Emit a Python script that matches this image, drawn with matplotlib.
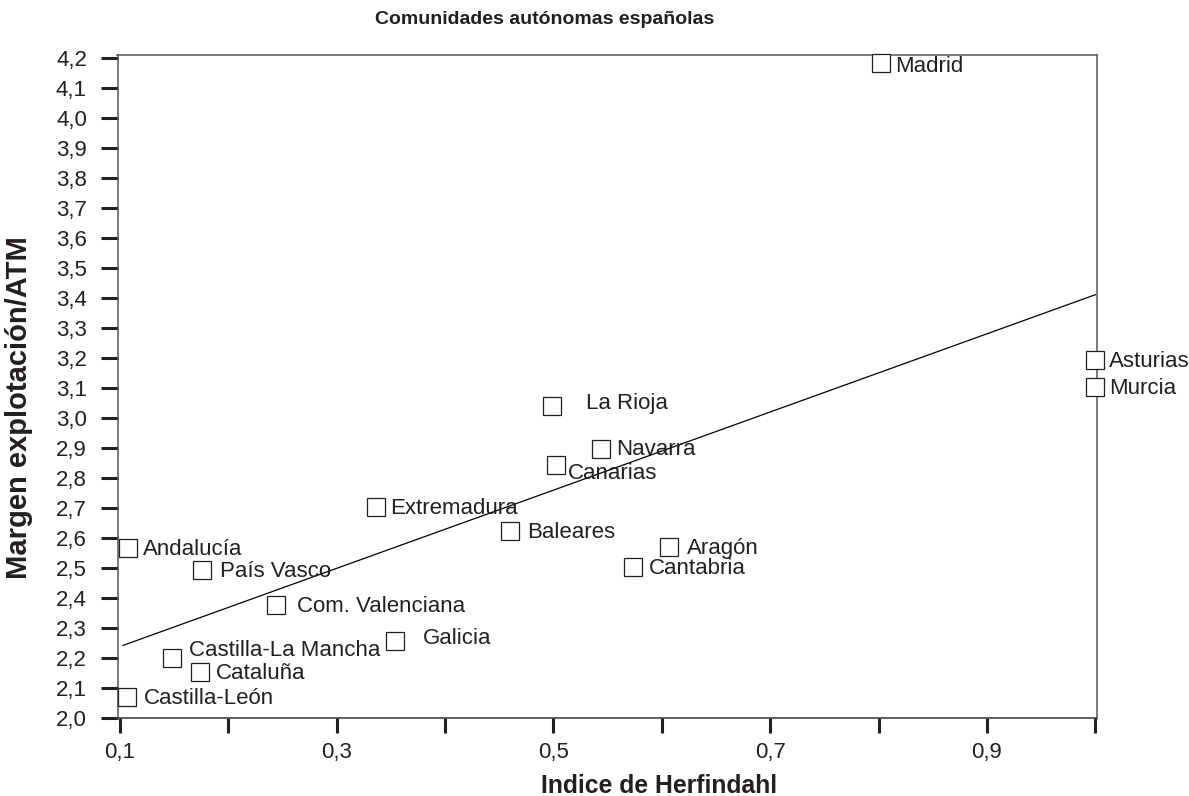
import matplotlib
matplotlib.use("Agg")
import matplotlib.pyplot as plt
from matplotlib.ticker import FixedLocator, FuncFormatter

plt.rcParams['font.family'] = ['Liberation Sans', 'DejaVu Sans']

# ---- data ----
regions = ["Madrid", "Asturias", "Murcia", "La Rioja", "Navarra", "Canarias",
           "Extremadura", "Baleares", "Aragón", "Cantabria", "Andalucía",
           "País Vasco", "Com. Valenciana", "Galicia", "Castilla-La Mancha",
           "Cataluña", "Castilla-León"]
herfindahl = [0.802, 1.000, 1.000, 0.499, 0.544, 0.502,
              0.336, 0.460, 0.607, 0.573, 0.108,
              0.176, 0.244, 0.354, 0.148,
              0.174, 0.107]
margen = [4.181, 3.193, 3.102, 3.040, 2.896, 2.841,
          2.703, 2.622, 2.569, 2.503, 2.567,
          2.492, 2.375, 2.255, 2.200,
          2.151, 2.069]
fit_x = [0.103, 1.0]
fit_y = [2.241, 3.410]
x_ticks = [0.1, 0.2, 0.3, 0.4, 0.5, 0.6, 0.7, 0.8, 0.9, 1.0]
x_labelled = [0.1, 0.3, 0.5, 0.7, 0.9]
y_ticks = [2.0, 2.1, 2.2, 2.3, 2.4, 2.5, 2.6, 2.7, 2.8, 2.9, 3.0,
           3.1, 3.2, 3.3, 3.4, 3.5, 3.6, 3.7, 3.8, 3.9, 4.0, 4.1, 4.2]

# label offsets in pixels relative to cap-centred text (layout only)
label_offsets = {
    "Madrid": (14, -1), "Asturias": (14, 1), "Murcia": (14, 1),
    "La Rioja": (34, 5), "Navarra": (15, 2), "Canarias": (12, -6),
    "Extremadura": (15, 1), "Baleares": (17, 1), "Aragón": (18, 1),
    "Cantabria": (16, 1), "Andalucía": (14.5, 1), "País Vasco": (18, 1),
    "Com. Valenciana": (21.5, 1), "Galicia": (28, 5),
    "Castilla-La Mancha": (17, 10), "Cataluña": (16, 1), "Castilla-León": (16.5, 1),
}

INK = "#231f20"
LABEL_SIZE = 16
CAP_HALF_PX = 0.716 * LABEL_SIZE * 100 / 72 / 2

fig = plt.figure(figsize=(11.89, 7.96), dpi=100)
ax = fig.add_axes([117.5 / 1189, 1 - 718 / 796, (1097 - 117.5) / 1189, (718 - 55) / 796])

ax.plot(fit_x, fit_y, color="black", lw=0.9, zorder=2)
ax.plot(herfindahl, margen, linestyle="none", marker="s", markersize=13.5,
        markerfacecolor="white", markeredgecolor=INK, markeredgewidth=0.9,
        zorder=5, clip_on=False)

for name, xv, yv in zip(regions, herfindahl, margen):
    dx, dy = label_offsets[name]
    ax.annotate(name, (xv, yv), xytext=(dx, dy - CAP_HALF_PX), textcoords="offset pixels",
                ha="left", va="baseline", fontsize=LABEL_SIZE, color=INK,
                zorder=6, annotation_clip=False)

ax.set_xlim(0.0979, 1.0015)
ax.set_ylim(1.999, 4.209)

ax.xaxis.set_major_locator(FixedLocator(x_ticks))
ax.yaxis.set_major_locator(FixedLocator(y_ticks))

def xfmt(v, pos):
    for t in x_labelled:
        if abs(v - t) < 1e-6:
            return f"{v:.1f}".replace(".", ",")
    return ""

ax.xaxis.set_major_formatter(FuncFormatter(xfmt))
ax.yaxis.set_major_formatter(FuncFormatter(lambda v, p: f"{v:.1f}".replace(".", ",")))

ax.tick_params(axis="both", direction="out", colors=INK, labelcolor=INK,
               labelsize=16, width=2.2)
ax.tick_params(axis="y", length=12, pad=10)
ax.tick_params(axis="x", length=10.5, pad=7)

for s in ax.spines.values():
    s.set_color("#555555")
    s.set_linewidth(1.1)
ax.spines["bottom"].set_color("#333333")

fig.text(545 / 1189, 1 - 20 / 796, "Comunidades autónomas españolas",
         ha="center", va="center", fontsize=14, fontweight="bold", color=INK)
fig.text(659 / 1189, 1 - 786 / 796, "Indice de Herfindahl",
         ha="center", va="center", fontsize=17.8, fontweight="bold", color=INK)
fig.text(19 / 1189, 1 - 408 / 796, "Margen explotación/ATM", rotation=90,
         ha="center", va="center", fontsize=21, fontweight="bold", color=INK)

fig.savefig("out.png", dpi=100)
